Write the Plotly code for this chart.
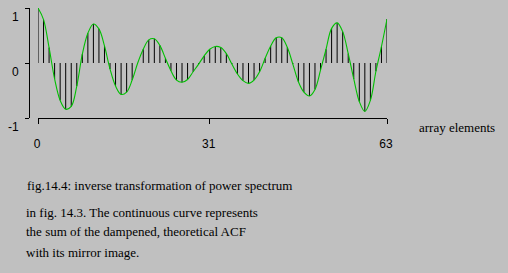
import plotly.graph_objects as go

# ---- data ----
elements = list(range(64))
acf_values = [1.00, 0.79, 0.28, -0.29, -0.68, -0.84, -0.79, -0.42, 0.16, 0.54,
              0.71, 0.62, 0.31, -0.11, -0.42, -0.57, -0.53, -0.31, 0.00, 0.25,
              0.42, 0.44, 0.32, 0.085, -0.14, -0.31, -0.35, -0.30, -0.16, -0.02,
              0.13, 0.25, 0.30, 0.28, 0.17, -0.02, -0.20, -0.32, -0.37, -0.31,
              -0.16, 0.085, 0.31, 0.46, 0.46, 0.285, -0.02, -0.34, -0.53, -0.60,
              -0.48, -0.13, 0.25, 0.63, 0.73, 0.57, 0.17, -0.29, -0.70, -0.88,
              -0.68, -0.15, 0.30, 0.80]
x_tick_vals = [0, 31, 63]
x_tick_text = ["0", "31", "63"]
y_tick_vals = [-1, 0, 1]
y_tick_text = ["-1", "0", "1"]
x_title = "array elements"
caption_lines = [
    "fig.14.4: inverse transformation of power spectrum",
    "in fig. 14.3. The continuous curve represents",
    "the sum of the dampened, theoretical ACF",
    "with its mirror image.",
]

# stems built from the data
stem_x, stem_y = [], []
for k, v in zip(elements, acf_values):
    stem_x += [k, k, None]
    stem_y += [0, v, None]

fig = go.Figure()
fig.add_trace(go.Scatter(x=stem_x, y=stem_y, mode="lines",
                         line=dict(color="black", width=1), hoverinfo="skip"))
fig.add_trace(go.Scatter(x=elements, y=acf_values, mode="lines",
                         line=dict(color="#00c000", width=1.1, shape="spline"),
                         hoverinfo="skip"))

bg = "#c0c0c0"
sans = "Liberation Sans"
serif = "Liberation Serif"

fig.update_layout(
    width=508, height=273,
    margin=dict(l=29, r=121, t=8, b=155, pad=0),
    paper_bgcolor=bg, plot_bgcolor=bg,
    showlegend=False,
    xaxis=dict(range=[0, 63], domain=[9 / 358, 1], showgrid=False, zeroline=False,
               showline=True, linecolor="black", linewidth=1,
               ticks="outside", ticklen=5, tickcolor="black", tickwidth=1,
               tickvals=x_tick_vals, ticktext=x_tick_text,
               tickfont=dict(family=sans, size=12, color="black"),
               ticklabelstandoff=10, ticklabelshift=-1),
    yaxis=dict(range=[-1, 1], anchor="free", position=0, showgrid=False, zeroline=False,
               showline=True, linecolor="black", linewidth=1,
               ticks="outside", ticklen=4, tickcolor="black", tickwidth=1,
               tickvals=y_tick_vals, ticktext=y_tick_text,
               tickfont=dict(family=sans, size=12, color="black"),
               ticklabelshift=9, ticklabelstandoff=4),
)

fig.add_annotation(text=x_title, x=417, y=127, showarrow=False,
                   xanchor="left", yanchor="middle",
                   font=dict(family=serif, size=13, color="black"))

caption_x = [25, 24, 24, 24]
caption_y = [185, 212.5, 232, 252]
for txt, cx, cy in zip(caption_lines, caption_x, caption_y):
    fig.add_annotation(text=txt, x=cx, y=cy, showarrow=False,
                       xanchor="left", yanchor="middle",
                       font=dict(family=serif, size=13, color="black"))

# annotations positioned in pixels: convert to paper coordinates
plot_w = 508 - 29 - 121
plot_h = 273 - 8 - 155
for a in fig.layout.annotations:
    a.x = (a.x - 29) / plot_w
    a.y = (273 - 155 - a.y) / plot_h
    a.xref = "paper"
    a.yref = "paper"

fig.write_html("out.html")
